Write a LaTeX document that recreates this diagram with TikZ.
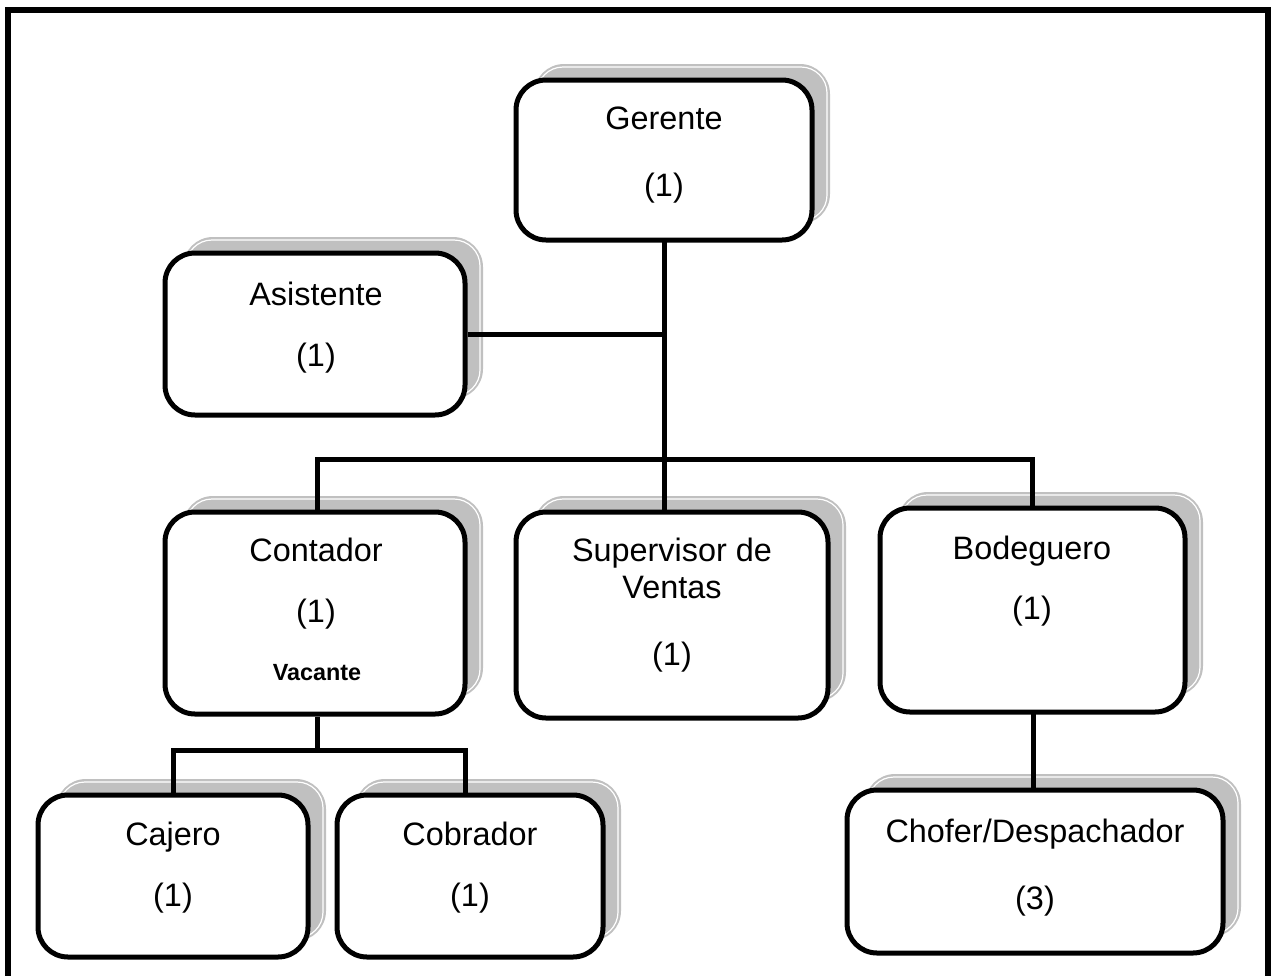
\documentclass[tikz,border=0pt]{standalone}
\usepackage{fontspec}
\setmainfont{Liberation Sans}
\definecolor{shadowgray}{RGB}{192,192,192}
\tikzset{
  box/.style={draw=black, fill=white, line width=2.5pt, rounded corners=15pt, rectangle, inner sep=0pt},
  conn/.style={draw=black, line width=2.5pt},
  lbl/.style={inner sep=0pt, text height=0.72em, text depth=0.21em, font=\fontsize{16.2}{19}\selectfont},
  vac/.style={inner sep=0pt, text height=0.72em, text depth=0.21em, font=\fontsize{11.7}{14}\selectfont\bfseries},
  frame/.style={draw=black, line width=3pt}
}
\newcommand\orgshadow[4]{%
  \fill[shadowgray, rounded corners=15pt] (#1+18,#2-16) rectangle (#3+18,#4-16);
  \draw[white, line width=0.6pt, rounded corners=13pt] (#1+21,#2-13) rectangle (#3+15,#4-19);
}
\newcommand\orgbox[5]{%
  \node[box, minimum width={(#4-#2)*0.5pt}, minimum height={(#5-#3)*0.5pt}] (#1) at ({(#2+#4)/2},{(#3+#5)/2}) {};
}
\begin{document}
\begin{tikzpicture}[x=0.5pt, y=-0.5pt]
\useasboundingbox (0,0) rectangle (1271,976);
% frame
\draw[frame] (8,980) -- (8,9.5) -- (1268,9.5) -- (1268,980);
% shadows
\orgshadow{516}{80}{812}{240}
\orgshadow{165}{253}{465}{415}
\orgshadow{165}{512}{465}{714}
\orgshadow{516}{512}{828}{718}
\orgshadow{880}{508}{1185}{712}
\orgshadow{38}{795}{308}{957}
\orgshadow{337}{795}{603}{957}
\orgshadow{847}{790}{1223}{953}
% invisible anchor nodes for connectors
\begin{scope}[opacity=0]
\orgbox{ger}{516}{80}{812}{240}
\orgbox{asi}{165}{253}{465}{415}
\orgbox{con}{165}{512}{465}{714}
\orgbox{sup}{516}{512}{828}{718}
\orgbox{bod}{880}{508}{1185}{712}
\orgbox{caj}{38}{795}{308}{957}
\orgbox{cob}{337}{795}{603}{957}
\orgbox{cho}{847}{790}{1223}{953}
\end{scope}
% connectors
\coordinate (bus) at (664,459);
\coordinate (cbus) at (317,750);
\draw[conn] (664,240) -- (664,512);
\draw[conn] (asi.east) -- (asi.east -| 664,0);
\draw[conn] (con.north -| 317,0) |- (bus) -| (bod.north);
\draw[conn] (con.south -| cbus) -- (cbus) -| (caj.north);
\draw[conn] (cbus) -| (465,795);
\draw[conn] (1033,712) -- (1033,790);
% visible boxes
\orgbox{gerB}{516}{80}{812}{240}
\orgbox{asiB}{165}{253}{465}{415}
\orgbox{conB}{165}{512}{465}{714}
\orgbox{supB}{516}{512}{828}{718}
\orgbox{bodB}{880}{508}{1185}{712}
\orgbox{cajB}{38}{795}{308}{957}
\orgbox{cobB}{337}{795}{603}{957}
\orgbox{choB}{847}{790}{1223}{953}
% texts
\node[lbl] (t1) at (664,124) {Gerente};
\node[lbl] (t2) at (664,191) {(1)};
\node[lbl] (t3) at (316,300) {Asistente};
\node[lbl] (t4) at (316,361) {(1)};
\node[lbl] (t5) at (316,556) {Contador};
\node[lbl] (t6) at (316,617) {(1)};
\node[vac] (t7) at (317,675) {Vacante};
\node[lbl] (t8) at (672,556) {Supervisor de};
\node[lbl] (t9) at (672,593) {Ventas};
\node[lbl] (t10) at (672,660) {(1)};
\node[lbl] (t11) at (1032,554) {Bodeguero};
\node[lbl] (t12) at (1032,614) {(1)};
\node[lbl] (t13) at (173,840) {Cajero};
\node[lbl] (t14) at (173,901) {(1)};
\node[lbl] (t15) at (470,840) {Cobrador};
\node[lbl] (t16) at (470,901) {(1)};
\node[lbl] (t17) at (1035,837) {Chofer/Despachador};
\node[lbl] (t18) at (1035,904) {(3)};
\end{tikzpicture}
\end{document}
